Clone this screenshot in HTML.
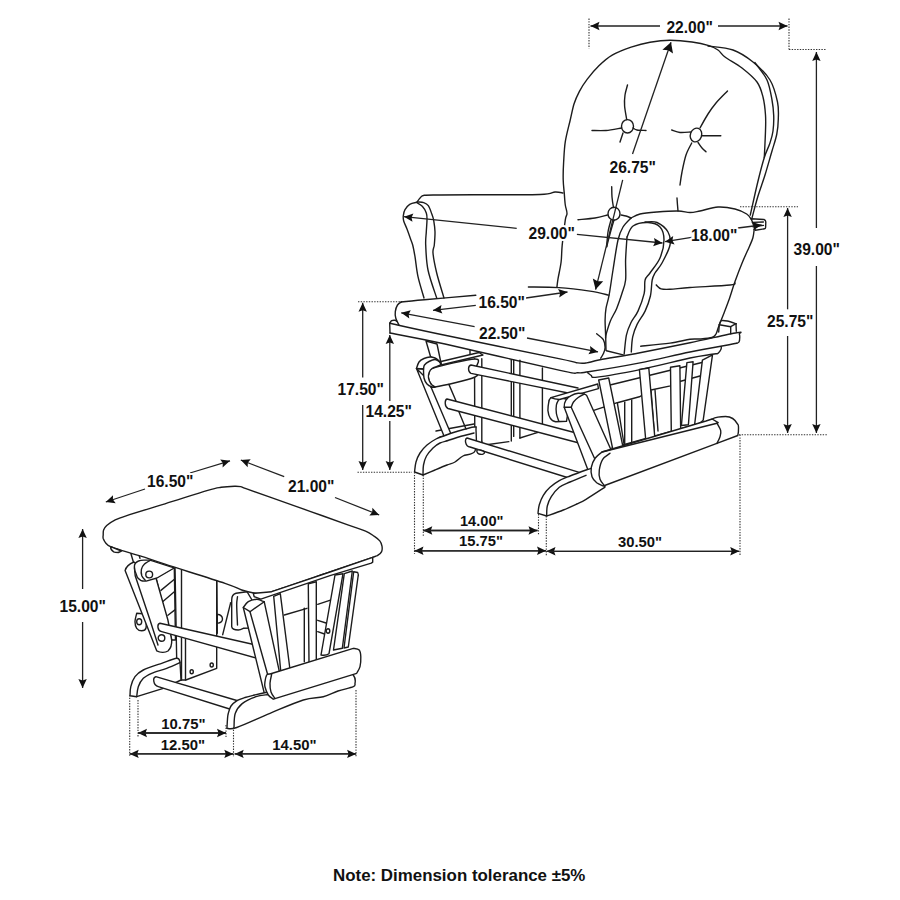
<!DOCTYPE html>
<html><head><meta charset="utf-8"><style>
html,body{margin:0;padding:0;background:#fff;width:900px;height:900px;overflow:hidden}
svg{display:block}
text{font-family:"Liberation Sans",sans-serif;font-weight:bold;fill:#111;stroke:#fff;stroke-width:4px;paint-order:stroke;stroke-linejoin:round}
</style></head><body>
<svg width="900" height="900" viewBox="0 0 900 900">
<rect width="900" height="900" fill="#fff"/>
<g fill="none" stroke="#1c1c1c" stroke-width="1.4" stroke-linecap="round" stroke-linejoin="round">
<path d="M556.9,287.3C557.1,285.9 557.3,283.1 558.0,278.9C558.7,274.7 560.4,267.6 561.1,262.0C561.8,256.4 561.5,252.1 562.2,245.1C562.9,238.1 564.5,225.1 565.3,219.8C566.1,214.5 567.0,215.9 567.0,213.4C567.0,210.9 565.8,208.3 565.3,205.0C564.8,201.7 564.6,197.6 564.3,193.4C563.9,189.2 563.3,184.8 563.2,179.7C563.1,174.6 563.2,169.1 563.6,162.8C564.0,156.5 564.2,148.7 565.3,141.7C566.4,134.7 568.5,127.3 570.0,121.0C571.5,114.7 572.5,108.9 574.0,104.0C575.5,99.1 577.1,95.8 579.3,91.6C581.5,87.4 584.0,83.4 587.3,79.1C590.6,74.8 594.8,69.8 598.9,65.8C603.0,61.8 606.8,58.2 612.2,55.1C617.6,52.0 624.8,49.2 631.1,47.1C637.4,45.0 643.5,43.3 650.0,42.2C656.5,41.1 663.0,40.3 670.0,40.3C677.0,40.3 685.5,41.1 692.0,42.0C698.5,42.9 704.6,44.3 708.9,45.6C713.2,46.9 715.3,48.1 718.0,50.0C720.7,51.9 721.0,54.0 725.0,57.0C729.0,60.0 736.7,63.8 742.0,68.0C747.3,72.2 753.5,77.2 757.0,82.0C760.5,86.8 761.6,91.5 763.0,97.0C764.4,102.5 765.1,109.3 765.5,115.0C765.9,120.7 765.7,123.9 765.5,131.0C765.3,138.1 764.5,153.1 764.3,157.5"/>
<path d="M708.0,46.0C712.2,46.7 725.5,47.3 733.0,50.0C740.5,52.7 746.8,57.0 753.0,62.0C759.2,67.0 765.9,73.3 770.0,80.0C774.1,86.7 776.1,95.5 777.5,102.0C778.9,108.5 778.4,113.7 778.3,119.0C778.2,124.3 777.8,128.7 776.8,134.0C775.8,139.3 774.0,144.2 772.0,151.0C770.0,157.8 767.3,167.5 765.0,175.0C762.7,182.5 760.2,188.8 758.0,196.0C755.8,203.2 753.0,214.3 752.0,218.0"/>
<path d="M755.0,63.0C755.2,63.2 754.0,61.2 756.0,64.0C758.0,66.8 764.3,74.0 767.0,80.0C769.7,86.0 770.9,94.1 772.0,100.0C773.1,105.9 773.5,110.3 773.7,115.5C773.9,120.7 773.6,126.3 773.0,131.0C772.4,135.7 771.2,139.1 769.8,143.5C768.3,147.9 766.4,150.8 764.3,157.5C762.2,164.2 759.6,174.4 757.3,184.0C755.0,193.6 751.5,209.8 750.3,215.0"/>
<path d="M621.5,126.3a6,6.7 0 1,0 12,0a6,6.7 0 1,0 -12,0"/>
<path d="M592.0,130.5C594.3,130.5 601.1,130.9 606.0,130.5C610.9,130.1 618.9,128.4 621.5,128.0"/>
<path d="M633.0,128.0C633.7,128.3 634.8,129.6 637.0,130.0C639.2,130.4 644.5,130.4 646.0,130.5"/>
<path d="M626.7,119.5C626.4,117.2 624.9,110.1 624.6,106.0C624.3,101.9 624.5,98.5 625.0,95.0C625.5,91.5 627.1,86.7 627.5,85.0"/>
<path d="M623.0,133.0 L620.0,142.0"/>
<path d="M690.4,135a5.6,7 0 1,0 11.2,0a5.6,7 0 1,0 -11.2,0" transform="rotate(20 696 135)"/>
<path d="M700.0,128.0C701.3,125.7 705.3,118.2 708.0,114.0C710.7,109.8 712.8,106.8 716.0,103.0C719.2,99.2 725.6,93.0 727.5,91.0"/>
<path d="M671.7,130.0C673.1,130.4 676.9,132.2 680.0,132.5C683.1,132.8 688.8,132.1 690.5,132.0"/>
<path d="M701.7,135.8 L720.8,135.8"/>
<path d="M698.0,142.5C698.7,143.4 700.7,146.5 702.0,148.0C703.3,149.5 705.3,151.1 706.0,151.7"/>
<path d="M691.7,143.0C690.8,145.0 687.6,150.2 686.0,155.0C684.4,159.8 683.0,167.0 682.0,172.0C681.0,177.0 680.3,182.8 680.0,185.0"/>
<path d="M677.0,198.0C677.1,199.2 677.3,202.8 677.5,205.0C677.7,207.2 677.9,210.0 678.0,211.0"/>
<path d="M608,213.7a6,6.5 0 1,0 12,0a6,6.5 0 1,0 -12,0"/>
<path d="M578.0,219.7C580.8,219.4 590.1,218.8 595.0,218.0C599.9,217.2 605.4,215.5 607.5,215.0"/>
<path d="M621.0,215.0C621.8,215.2 624.3,215.5 626.0,216.0C627.7,216.5 630.2,217.7 631.0,218.0"/>
<path d="M611.7,186.7C611.8,188.4 611.7,193.5 612.0,197.0C612.3,200.5 613.2,205.8 613.5,207.5"/>
<path d="M611.0,220.0C610.5,222.0 608.7,227.6 608.0,232.0C607.3,236.4 606.9,244.2 606.7,246.7"/>
<path d="M614.0,220.0C613.4,222.0 611.7,227.6 610.5,232.0C609.3,236.4 607.3,244.2 606.7,246.7"/>
<path d="M417.0,202.0C417.6,201.3 419.1,198.8 420.3,197.7C421.5,196.6 421.0,195.8 424.3,195.3C427.6,194.9 431.9,195.1 440.0,195.0C448.1,194.9 456.3,194.8 473.0,194.7C489.7,194.6 526.3,194.9 540.0,194.5C553.7,194.1 551.2,192.2 555.0,192.0C558.8,191.8 561.7,192.8 563.0,193.0"/>
<path d="M417.0,202.3C415.8,202.6 411.7,203.1 409.7,204.3C407.7,205.5 406.1,207.8 405.0,209.7C403.9,211.6 403.5,213.8 403.3,215.7C403.1,217.6 403.1,218.8 403.7,221.0C404.3,223.2 405.9,226.1 407.0,229.0C408.1,231.9 409.4,235.6 410.3,238.3C411.2,241.0 411.9,241.9 412.7,245.0C413.5,248.1 414.1,251.4 415.0,256.7C415.9,262.0 416.5,269.8 418.0,276.7C419.5,283.6 423.0,294.4 424.0,298.0"/>
<path d="M417.0,202.7C417.9,203.3 420.8,204.6 422.3,206.3C423.9,208.0 425.5,210.8 426.3,213.0C427.1,215.2 427.0,216.6 427.0,219.7C427.0,222.8 426.5,227.5 426.3,231.7C426.1,235.9 425.4,238.6 425.7,245.0C426.0,251.4 426.2,261.2 428.0,270.0C429.8,278.8 435.2,293.3 436.7,298.0"/>
<path d="M418.3,202.0C419.2,202.1 422.0,202.1 423.7,202.7C425.4,203.3 427.0,203.9 428.3,205.7C429.6,207.5 430.8,211.3 431.7,213.7C432.6,216.1 433.1,217.3 433.7,220.3C434.2,223.3 434.9,227.6 435.0,231.7C435.1,235.8 434.6,241.4 434.3,245.0C434.0,248.6 432.6,248.3 433.0,253.0C433.4,257.7 434.9,265.5 436.7,273.0C438.5,280.5 442.8,293.8 444.0,298.0"/>
<path d="M631.0,218.0C632.5,217.3 635.7,215.0 640.0,214.0C644.3,213.0 650.7,212.5 657.0,212.0C663.3,211.5 672.5,210.9 678.0,211.0C683.5,211.1 686.3,212.5 690.0,212.5C693.7,212.5 695.3,211.9 700.0,211.0C704.7,210.1 712.2,207.3 718.0,207.0C723.8,206.7 730.2,207.8 735.0,209.0C739.8,210.2 743.9,212.2 746.7,214.0C749.5,215.8 750.9,219.0 751.7,220.0"/>
<path d="M631.0,218.0C629.7,219.5 625.2,223.3 623.0,227.0C620.8,230.7 619.7,232.8 618.0,240.0C616.3,247.2 614.5,260.8 613.0,270.0C611.5,279.2 610.3,288.7 609.1,295.1C607.9,301.5 606.7,304.2 606.0,308.4C605.3,312.5 605.2,315.6 605.1,320.0C605.0,324.4 605.5,330.1 605.6,335.1C605.8,340.1 605.9,347.7 606.0,350.2"/>
<path d="M627.0,237.0C626.8,240.8 625.8,252.8 625.6,260.0C625.4,267.2 626.2,274.4 625.6,280.0C625.0,285.6 623.5,288.6 622.0,293.3C620.5,298.0 618.6,303.8 616.7,308.4C614.8,313.0 612.1,316.8 610.4,320.9C608.7,325.0 607.2,330.5 606.4,333.3C605.6,336.1 605.7,337.1 605.6,337.8"/>
<path d="M627.0,237.0C628.0,235.2 629.5,228.4 633.0,226.0C636.5,223.6 643.5,222.3 648.0,222.5C652.5,222.7 657.3,224.1 660.0,227.0C662.7,229.9 664.0,234.8 664.0,240.0C664.0,245.2 662.3,252.5 660.0,258.0C657.7,263.5 652.5,269.3 650.0,273.0C647.5,276.7 646.1,276.6 645.1,280.0C644.1,283.4 645.4,288.1 644.2,293.3C643.0,298.5 640.2,306.2 638.0,311.1C635.8,316.0 632.8,318.7 630.9,322.7C629.0,326.7 627.5,329.9 626.4,335.1C625.3,340.3 624.6,350.7 624.2,353.8"/>
<path d="M645.0,222.0C647.0,222.1 653.2,220.8 657.0,222.5C660.8,224.2 665.8,228.2 668.0,232.0C670.2,235.8 671.0,239.8 670.0,245.0C669.0,250.2 664.5,258.3 662.0,263.0C659.5,267.7 656.6,270.2 655.0,273.0C653.4,275.8 653.0,276.2 652.2,280.0C651.4,283.8 651.6,290.8 650.4,296.0C649.2,301.2 647.3,306.4 645.1,311.1C642.9,315.8 639.2,320.1 637.1,324.4C635.0,328.7 633.7,332.3 632.7,336.9C631.7,341.5 631.5,349.5 631.3,352.0"/>
<path d="M754.2,229.3C754.0,230.7 753.7,234.9 752.9,237.8C752.1,240.7 751.1,242.5 749.3,246.7C747.5,250.8 744.6,256.9 742.2,262.7C739.8,268.5 737.3,275.1 735.1,281.3C732.9,287.5 730.7,294.9 728.9,300.0C727.1,305.1 726.1,307.5 724.4,312.0C722.7,316.5 719.9,323.3 718.5,327.0C717.1,330.7 717.1,332.2 716.0,334.0C714.9,335.8 714.7,336.7 712.0,337.5C709.3,338.3 703.7,338.7 700.0,339.0C696.3,339.3 695.0,338.6 690.0,339.3C685.0,340.0 678.2,342.0 670.0,343.1C661.8,344.2 645.6,345.7 640.7,346.2"/>
<path d="M656.2,284.9C657.0,285.6 658.8,288.2 661.1,288.9C663.4,289.6 665.2,289.5 670.0,289.3C674.8,289.1 680.0,288.2 690.0,287.5C700.0,286.8 722.5,285.8 730.0,285.0C737.5,284.2 734.2,283.3 735.0,283.0"/>
<path d="M751.2,218.7 L764,219.5 C765.5,220 765.8,221 765.8,222 L765.6,227.5 C765.5,228.5 765,228.8 764.6,228.8 L755.4,230.3 Z" fill="#fff"/>
<path d="M752.4,222.4 L763.4,222.0"/>
<path d="M753.0,226.7 L763.4,225.4"/>
<path d="M528.4,287.0C533.5,287.1 548.7,286.9 559.0,287.6C569.3,288.3 581.7,289.9 590.0,291.1C598.3,292.4 605.6,294.4 608.7,295.1"/>
<path d="M401.0,302.0C404.9,301.6 411.9,300.9 424.4,299.8C436.9,298.7 467.2,296.0 475.8,295.2"/>
<path d="M401.7,301.7C401.0,302.2 398.6,303.3 397.5,305.0C396.4,306.7 395.6,309.5 395.3,311.7C395.0,313.9 395.2,316.1 395.8,318.3C396.4,320.5 398.5,323.9 399.0,325.0"/>
<path d="M596.7,333.8C597.8,334.8 601.9,337.3 603.3,339.6C604.7,341.9 605.1,345.2 605.1,347.6C605.1,350.0 604.0,352.0 603.3,353.8C602.6,355.6 601.1,357.5 600.7,358.2"/>
<path d="M606.4,350.7 L624.2,355.1"/>
<path d="M389.7,323.3C398.9,325.3 416.6,329.4 445.0,335.3C473.4,341.2 537.9,354.3 560.0,358.9C582.1,363.5 573.3,362.2 577.8,362.9C582.2,363.6 583.0,363.4 586.7,362.9C590.4,362.4 591.1,361.5 600.0,359.8C608.9,358.1 625.0,355.6 640.0,352.7C655.0,349.8 673.9,346.0 690.0,342.7C706.1,339.4 728.5,334.1 736.7,332.7C744.9,331.2 738.8,333.1 739.3,334.0C739.8,334.9 739.8,336.7 739.7,338.0C739.7,339.3 739.5,341.1 739.0,342.0C738.5,342.9 737.1,343.1 736.7,343.3"/>
<path d="M390.0,333.0C399.2,334.8 416.7,337.8 445.0,344.0C473.3,350.2 537.9,365.6 560.0,370.4C582.1,375.2 573.1,372.5 577.8,372.7C582.5,372.9 578.0,373.4 588.4,371.8C598.8,370.2 623.1,366.2 640.0,362.9C656.9,359.6 673.9,355.3 690.0,352.0C706.1,348.7 728.9,344.8 736.7,343.3"/>
<path d="M389.7,323.3 L390.0,333.0"/>
<path d="M389.7,323.3C390.0,322.9 390.8,321.2 391.7,320.7C392.6,320.2 394.2,320.2 395.0,320.3C395.8,320.4 396.4,321.1 396.7,321.3"/>
<path d="M587.6,372.7C588.2,373.1 589.5,374.6 591.1,375.3C592.7,376.0 589.1,378.1 597.3,377.1C605.4,376.2 624.5,372.8 640.0,369.6C655.5,366.4 678.0,360.6 690.0,358.0C702.0,355.4 707.3,355.1 712.0,354.3C716.7,353.5 716.5,354.1 718.0,353.3C719.5,352.5 720.5,350.4 721.0,349.3C721.5,348.2 721.2,347.1 721.3,346.7"/>
<path d="M719.3,324.7C719.6,324.0 720.0,321.3 721.3,320.7C722.6,320.1 724.8,320.5 727.3,321.0C729.8,321.5 734.5,323.2 736.0,323.7"/>
<path d="M719.3,324.7 L730.7,326.7 L736.0,323.7"/>
<path d="M719.3,324.7 L718.7,332.0"/>
<path d="M730.7,326.7 L730.7,333.7"/>
<path d="M736.0,323.7 L736.3,331.3"/>
<path d="M474.5,358.7 L474.8,440.0"/>
<path d="M481.8,358.7 L481.8,441.1"/>
<path d="M511.3,360.2 L511.3,441.1"/>
<path d="M481.8,441.1 L483.0,445.2 L508.8,441.6"/>
<path d="M513.7,360.2 L513.7,436.4"/>
<path d="M519.9,360.2 L519.9,438.0"/>
<path d="M519.9,438.0 L534.7,433.3"/>
<path d="M542.4,368.0 L542.4,424.0"/>
<path d="M534.7,433.3 L542.4,431.0"/>
<path d="M470.0,350.0 L470.0,356.0"/>
<path d="M436.0,431.0 L474.0,424.0"/>
<path d="M440.0,437.0 L474.0,430.0"/>
<path d="M426,341 L437,344 L441,363 L430.5,356.5Z" fill="#fff"/>
<path d="M416.5,368.5 L428,380 L451,434 L444,436Z" fill="#fff"/>
<path d="M414.5,472.0C414.8,470.3 415.1,465.2 416.0,462.0C416.9,458.8 418.2,455.8 420.0,453.0C421.8,450.2 424.3,447.3 427.0,445.0C429.7,442.7 433.0,440.6 436.0,439.0C439.0,437.4 441.8,436.7 445.0,435.5C448.2,434.3 450.2,433.4 455.0,432.0C459.8,430.6 470.5,427.3 474.0,427.0C477.5,426.7 475.8,426.0 476.0,430.0C476.2,434.0 477.2,446.7 475.0,451.0C472.8,455.3 466.3,454.2 463.0,456.0C459.7,457.8 457.7,460.5 455.0,462.0C452.3,463.5 450.3,463.7 447.0,465.0C443.7,466.3 439.0,468.3 435.0,470.0C431.0,471.7 425.0,474.2 423.0,475.0Z" fill="#fff"/>
<path d="M423.0,475.0C423.1,473.3 422.9,468.2 423.5,465.0C424.1,461.8 424.9,458.8 426.5,456.0C428.1,453.2 430.8,450.2 433.0,448.0C435.2,445.8 437.5,444.2 440.0,443.0C442.5,441.8 445.2,441.4 448.0,440.5C450.8,439.6 452.7,438.8 457.0,437.5C461.3,436.2 471.2,433.8 474.0,433.0"/>
<path d="M441,361.5 L479,352.5 L483,355 L441,365Z" fill="#fff"/>
<path d="M432.0,368.5C439.7,366.2 467.7,359.1 475.0,359.0C482.3,358.9 476.0,365.0 476.0,368.0C476.0,371.0 481.8,373.8 475.0,377.0C468.2,380.2 442.3,385.8 435.0,387.0C427.7,388.2 432.1,385.5 431.0,384.0C429.9,382.5 428.8,379.8 428.5,378.0C428.2,376.2 428.4,374.6 429.0,373.0C429.6,371.4 424.3,370.8 432.0,368.5Z" fill="#fff"/>
<path d="M416.5,368.5C416.9,367.4 417.8,363.7 419.0,362.0C420.2,360.3 422.2,359.3 424.0,358.5C425.8,357.7 428.2,357.1 430.0,357.0C431.8,356.9 433.7,357.5 435.0,358.0C436.3,358.5 437.0,358.9 438.0,360.0C439.0,361.1 442.0,363.1 441.0,364.5C440.0,365.9 434.0,367.1 432.0,368.5C430.0,369.9 429.6,371.4 429.0,373.0C428.4,374.6 428.2,376.2 428.5,378.0C428.8,379.8 429.9,382.5 431.0,384.0C432.1,385.5 434.8,386.5 435.0,387.0C435.2,387.5 433.3,387.5 432.0,387.0C430.7,386.5 428.3,385.5 427.0,384.0C425.7,382.5 424.6,380.5 424.0,378.0C423.4,375.5 423.6,370.5 423.5,369.0Z" fill="#fff"/>
<path d="M423.5,369.0C423.7,368.3 423.6,366.2 424.5,365.0C425.4,363.8 427.2,362.4 429.0,361.5C430.8,360.6 433.3,359.5 435.0,359.5C436.7,359.5 438.0,360.7 439.0,361.5C440.0,362.3 440.7,364.0 441.0,364.5"/>
<path d="M416.5,368.5 L423.5,369.0"/>
<path d="M448.9,384.4 L455.6,400.0 L459.0,412.0 L466.0,429.0"/>
<path d="M471,365 L578,388 L578,395 L471,373.4 C468,372 467.5,366 471,365Z" fill="#fff" stroke="none"/>
<path d="M578,388 L471,365 C467.5,366 468,372 471,373.4 L578,395"/>
<path d="M447,399 L580,434 L580,443.3 L448,408.5 C444.5,407 444.5,400 447,399Z" fill="#fff"/>
<path d="M467,438 L589,475.3 L585,483 L470,447 C465,446.5 464.5,439 467,438Z" fill="#fff"/>
<path d="M477,450 C479,449.5 483,450.5 484.5,452 C485,454 482,455 479,454 C477,453.3 476.5,451 477,450Z" fill="#fff"/>
<path d="M609.0,385.3 L704.0,362.0"/>
<path d="M593.0,410.7 L617.3,402.7 L639.4,396.8 L651.0,390.0 L670.5,385.9 L680.7,381.2 L700.0,376.0"/>
<path d="M612.0,448.0 L713.0,419.6"/>
<path d="M702.4,360.2 L712.5,354.8 L703.2,420.1 C701,423 696,425 694.6,424.8Z" fill="#fff"/>
<path d="M686.9,362.6 L693.1,361.8 L688.4,424.8 L681.4,425.5Z" fill="#fff"/>
<path d="M670.5,367.2 L679.9,365.7 L680.7,432.5 C678,435 674,435 671.3,431.8Z" fill="#fff"/>
<path d="M651.1,391.3 L654.2,431.8"/>
<path d="M655.0,390.0 L658.0,431.0"/>
<path d="M617.3,402.7 L624.0,444.0"/>
<path d="M624.7,402.2 L624.7,444.2"/>
<path d="M631.7,399.9 L631.7,442.6"/>
<path d="M639.4,369.5 L648.8,368 L655,439.5 C652,442 648,442 645.7,439.5Z" fill="#fff"/>
<path d="M598.7,380 L608.7,378 L623.3,448.3 C621,452 616,452.5 612.8,449.4Z" fill="#fff"/>
<path d="M551,397.6 C549.5,399 548.7,401 548.7,402.7 C548,406 547.9,408 547.9,410.4 C548.3,414 549,416.5 550.2,418.2 C551.5,420.3 553.5,421.5 555.7,421.7 L566.5,421.3 L570,400 L560,397.5 Z" fill="#fff"/>
<path d="M558.8,399.5C558.4,400.4 556.8,402.7 556.4,405.0C556.0,407.3 556.0,410.8 556.4,413.5C556.8,416.2 558.4,420.0 558.8,421.3"/>
<path d="M551,397.6 L597.7,384 L598.4,388.7 L559.5,399.5 C556,399.2 553,398.5 551,397.6 Z" fill="#fff"/>
<path d="M564.2,407.3 C564,403 565,401.5 565.8,400.3 C567.5,398 569,396.8 571.2,395.7 C573.5,394.3 576,393.5 578.2,393.3 C580.5,393.2 582.5,393.5 584.4,394.1 C585.5,394.5 586.3,395 586.8,395.7 L612,452 L600,478 L590.7,477.3 Z" fill="#fff"/>
<path d="M564.2,407.3L571.2,407.3"/>
<path d="M571.2,407.3C571.6,406.4 572.3,403.6 573.5,402.0C574.7,400.4 576.4,398.8 578.2,397.5C580.0,396.2 583.4,394.7 584.4,394.1"/>
<path d="M571.2,407.3 L598.0,466.0"/>
<path d="M538.0,513.3C538.2,511.9 538.4,507.7 539.3,504.7C540.2,501.7 541.5,498.2 543.3,495.3C545.1,492.4 547.3,489.7 550.0,487.3C552.7,484.9 556.0,482.6 559.3,480.7C562.6,478.8 565.5,477.8 570.0,476.0C574.5,474.2 581.3,471.7 586.0,470.0C590.7,468.3 596.0,466.7 598.0,466.0 L605,487 L604.7,487.3C601.6,489.3 590.7,496.5 586.0,499.3C581.3,502.1 580.5,502.2 576.7,504.0C572.9,505.8 568.3,508.0 563.3,510.0C558.3,512.0 549.5,515.0 546.7,516.0Z" fill="#fff"/>
<path d="M546.7,516.0C546.8,514.3 546.5,509.2 547.3,506.0C548.1,502.8 549.3,499.8 551.3,496.7C553.3,493.6 556.2,489.8 559.3,487.3C562.4,484.9 565.5,484.0 570.0,482.0C574.5,480.0 583.3,476.4 586.0,475.3"/>
<path d="M602.0,452.0C600.9,453.0 597.1,455.4 595.3,458.0C593.5,460.6 591.8,464.2 591.3,467.3C590.8,470.4 591.1,474.1 592.0,476.7C592.9,479.3 594.8,481.1 596.7,482.7C598.6,484.2 602.2,485.4 603.3,486.0 L718.2,442.8 L737.8,435.5 C739,430 738.5,424 737.8,424.4 C735,419 730,416.5 725.6,416.5 C720,416.5 715,417.5 712.1,419 L706,421Z" fill="#fff"/>
<path d="M610.0,453.3C608.8,454.3 604.5,456.5 602.7,459.3C600.9,462.1 599.8,466.7 599.3,470.0C598.8,473.3 599.1,476.6 600.0,479.3C600.9,482.0 603.9,484.9 604.7,486.0"/>
<path d="M717.0,423.2C717.6,424.4 720.2,428.4 720.7,430.6C721.2,432.9 720.6,434.6 720.0,436.7C719.4,438.8 717.5,442.3 717.0,443.4"/>
<path d="M602.0,452.0 L717.0,423.2"/>
<path d="M712.1,419.0 L718.2,422.6 L717.0,423.2"/>
<path d="M136.7,613.3C136.4,614.7 135.0,619.2 135.0,621.7C135.0,624.2 135.6,626.8 136.7,628.3C137.8,629.8 140.1,630.8 141.7,630.8C143.2,630.8 145.3,630.8 146.0,628.0C146.7,625.2 146.0,616.3 146.0,614.0Z" fill="#fff"/>
<path d="M136.7,621.7a2.5,3 0 1,0 5.0,0a2.5,3 0 1,0 -5.0,0"/>
<path d="M130.8,553.3 L133.3,561.7"/>
<path d="M139.2,555.8 L140.0,558.3"/>
<path d="M175,566.7 L216.7,580 L216.7,668.3 L185.8,680 L180.8,680 L176.7,660Z" fill="#fff"/>
<path d="M181.5,570.0 L181.5,680.0"/>
<path d="M185.5,638.0 L185.5,680.0"/>
<path d="M190.1,671.7a1.6,2 0 1,0 3.2,0a1.6,2 0 1,0 -3.2,0"/>
<path d="M210.1,665a1.6,2 0 1,0 3.2,0a1.6,2 0 1,0 -3.2,0"/>
<path d="M216.7,580.7 L217.3,633.3"/>
<path d="M222.7,634.7 L230.7,602.7"/>
<path d="M217.3,614.5 C220,614 222.5,616.5 222.5,619 C222.5,621.5 220,623.5 217.3,623Z" fill="#fff"/>
<path d="M156,578 L174.3,567.5 L175.5,640 L171.7,640 Z" fill="#fff"/>
<path d="M160.9,590.4 L174.1,579.5"/>
<path d="M163.2,601.3 L174.9,591.2"/>
<path d="M167.9,615.3 L174.9,609.9"/>
<path d="M125.1,570.6 C126,567 129,564 134,562 L156.2,578.8 L167.9,620 L171.7,640 C172,645 170.8,648.3 168,651 C165,652.8 160,652.5 156.7,650.8 Z" fill="#fff"/>
<path d="M134.4,567.9 L135.2,575.7 L150.0,620.0 L158.0,645.0"/>
<path d="M158.2,638a3.3,3.3 0 1,0 6.6,0a3.3,3.3 0 1,0 -6.6,0"/>
<path d="M134.4,567 C134.2,564 136,562 138.5,561 C140,560.3 142,560.1 144,560.1 L150,560.1 L174.1,567.9 L173.3,568.5 L157,578 L146.1,581.1 C143.5,581.2 141.5,580.8 140.7,580.3 C138,578.5 136.8,577 136.8,575.7 C135,572 134.5,569.5 134.4,567 Z" fill="#fff"/>
<path d="M151.5,559.7C150.3,560.4 146.2,562.4 144.5,564.0C142.8,565.6 141.8,567.4 141.4,569.4C141.0,571.4 141.2,573.9 141.8,575.7C142.5,577.5 144.7,579.5 145.3,580.3"/>
<path d="M145.79999999999998,574.5a3.4,3.4 0 1,0 6.8,0a3.4,3.4 0 1,0 -6.8,0"/>
<path d="M160,623.3 L256,645 L258,658.5 L161.7,631.7 C157,630.5 157,624 160,623.3Z" fill="#fff"/>
<path d="M231.7,626.7 L231.7,600 C231.7,596 233,594 236,593.3 L247,591.7 L252,600 L250,628 L243.3,628.3 C241,629.5 239,630 238.3,630 C235,630 232,629 231.7,626.7Z" fill="#fff"/>
<path d="M237.5,596.7C237.4,598.1 236.7,600.3 236.7,605.0C236.7,609.7 237.4,621.7 237.5,625.0"/>
<path d="M284.3,615.0 L307.0,608.3"/>
<path d="M317.7,604.3 L329.7,600.3"/>
<path d="M304.3,608.3 L304.3,661.7"/>
<path d="M317.7,620.3 L326.0,623.0"/>
<path d="M317.7,631.7 L324.5,634.0"/>
<path d="M273.7,596.3 L280.3,593.7 L290.3,672 L281,674 Z" fill="#fff"/>
<path d="M308.3,583.7 L316.3,581.7 L316.3,661.7 C314,664.5 311,664.5 309,661.7 Z" fill="#fff"/>
<path d="M353.7,571.7 L357.7,572.5 C358.5,574 358.3,576 358,577 L348.3,647 L344,648 Z" fill="#fff"/>
<path d="M344.3,573.7 L352.3,571 L342.3,648.3 L333.5,650 Z" fill="#fff"/>
<path d="M335,575 L343,573.7 L329,653.7 C326.5,655.5 323.5,655.5 321,655 Z" fill="#fff"/>
<path d="M326.2,631a1.8,2.2 0 1,0 3.6,0a1.8,2.2 0 1,0 -3.6,0"/>
<path d="M243.3,607.5C244.1,606.5 246.1,603.1 248.3,601.7C250.5,600.3 254.5,599.4 256.7,599.2C258.9,599.1 260.4,600.4 261.7,600.8C262.9,601.2 263.8,601.6 264.2,601.7 L279.2,670.8 L265,696 Z" fill="#fff"/>
<path d="M243.3,607.5 L250.0,611.7 L264.2,601.7"/>
<path d="M250.0,611.7 L272.0,690.0"/>
<path d="M103.2,535.0C103.3,533.6 103.0,531.6 103.6,530.0C104.2,528.4 104.9,527.1 106.7,525.5C108.5,523.9 111.2,522.0 114.4,520.4C117.6,518.8 117.7,518.6 126.1,515.8C134.5,513.0 151.4,508.0 165.0,503.8C178.6,499.6 198.5,493.1 207.8,490.4C217.2,487.6 216.7,488.0 221.1,487.3C225.5,486.6 231.1,486.3 234.4,486.2C237.7,486.1 238.8,486.2 240.7,486.6C242.6,487.0 241.1,486.9 246.0,488.6C250.9,490.4 259.3,493.3 270.0,497.1C280.7,500.9 297.0,506.7 310.0,511.3C323.0,515.9 338.5,521.6 347.8,524.9C357.1,528.2 361.2,529.2 365.6,531.1C370.0,533.0 372.0,534.8 374.4,536.4C376.8,538.0 378.5,539.3 379.8,540.9C381.1,542.5 381.7,544.4 382.0,546.2C382.3,548.0 382.3,550.1 381.6,551.6C380.9,553.1 379.5,554.2 378.0,555.1C376.5,556.0 380.7,554.5 372.7,557.3C364.7,560.1 346.8,566.3 330.0,572.0C313.2,577.7 283.0,588.1 271.7,591.7C260.4,595.3 264.8,593.3 262.0,593.6C259.2,593.9 258.4,593.9 255.0,593.3C251.6,592.7 246.7,591.7 241.7,590.0C236.7,588.3 237.8,587.6 225.0,583.3C212.2,579.0 178.9,568.7 165.0,564.2C151.1,559.7 148.8,558.7 141.7,556.4C134.6,554.1 127.4,552.2 122.2,550.6C117.0,549.0 113.3,547.9 110.6,546.7C107.9,545.5 107.1,544.6 105.9,543.2C104.7,541.8 103.7,539.9 103.2,538.5C102.8,537.1 103.1,536.4 103.2,535.0Z" fill="#fff"/>
<path d="M253.3,593.3 L255,593.3 L271.7,591.7 L330,572 L372.7,557.3 L372.7,562.2 L371.3,563.1 L330,575.6 L260.8,599.2 L254.2,596.7Z" fill="#fff"/>
<path d="M110.6,546.7 C110.5,549 111,550.2 113.7,551.8 C115,552.5 117,552.5 118.3,552.5 L121.4,551Z" fill="#fff"/>
<path d="M130.0,695.8C130.1,694.3 130.0,689.9 130.8,686.7C131.6,683.5 132.9,679.5 135.0,676.7C137.1,673.9 138.9,672.2 143.3,670.0C147.8,667.8 156.1,665.2 161.7,663.3C167.3,661.3 173.6,658.6 176.7,658.3C179.8,658.0 179.4,661.1 180.0,661.7 L181,680 L163.3,688.3 L136.7,696.7Z" fill="#fff"/>
<path d="M136.7,696.7C137.0,695.0 137.2,689.8 138.3,686.7C139.4,683.6 141.1,680.5 143.3,678.3C145.5,676.1 147.8,675.0 151.7,673.3C155.6,671.6 162.0,670.1 166.7,668.3C171.4,666.5 177.8,663.5 180.0,662.5"/>
<path d="M155.8,676.7 L242,702 L236,711 L158.3,686.7 C153,685 152.5,677.5 155.8,676.7Z" fill="#fff"/>
<path d="M227.0,727.5C227.1,726.1 227.3,721.4 227.5,719.0C227.7,716.6 227.7,715.5 228.3,713.3C228.9,711.1 229.6,708.1 231.0,706.0C232.4,703.9 234.4,702.2 236.7,700.8C239.0,699.4 242.2,698.4 245.0,697.5C247.8,696.6 249.5,696.2 253.3,695.3C257.1,694.4 265.6,692.5 268.0,692.0 L300,682 L350,670 L353.3,675 C355.5,678 355.5,681 355,683.3 L355.0,683.3C354.7,683.9 356.1,685.4 353.3,686.7C350.5,688.0 343.0,689.3 338.0,691.0C333.0,692.7 329.1,695.2 323.3,696.7C317.5,698.2 312.2,697.2 303.3,700.0C294.4,702.8 281.1,708.7 270.0,713.3C258.9,717.9 243.9,725.0 236.7,727.5C229.5,730.0 228.4,728.2 226.7,728.3Z" fill="#fff"/>
<path d="M234.0,727.2C234.2,724.9 233.9,717.2 235.3,713.3C236.7,709.4 238.8,706.4 242.2,703.6C245.6,700.8 251.7,698.2 256.0,696.7C260.3,695.2 266.0,694.9 268.0,694.5"/>
<path d="M353.3,648.3C354.3,648.6 357.9,648.6 359.2,650.0C360.4,651.4 360.7,653.9 360.8,656.7C360.9,659.5 360.7,663.9 360.0,666.7C359.3,669.5 357.2,672.2 356.7,673.3 L273.3,699.2 L273.3,699.2C272.5,698.5 269.7,697.0 268.3,695.0C266.9,693.0 265.6,689.2 265.0,687.0C264.4,684.8 264.7,683.7 265.0,681.7C265.3,679.7 265.9,676.3 266.7,675.0C267.5,673.7 269.4,674.2 270.0,674.0Z" fill="#fff"/>
<path d="M271.7,674.2C271.4,675.7 270.1,680.3 270.0,683.3C269.9,686.3 270.2,689.5 271.0,692.0C271.8,694.5 274.3,697.4 275.0,698.5"/>
</g>
<line x1="590.5" y1="26" x2="660" y2="26" stroke="#222" stroke-width="1.3"/>
<polygon points="590.5,26.0 599.5,21.8 598.0,26.0 599.5,30.2" fill="#111"/>
<line x1="787.5" y1="26" x2="718" y2="26" stroke="#222" stroke-width="1.3"/>
<polygon points="787.5,26.0 778.5,30.2 780.0,26.0 778.5,21.8" fill="#111"/>
<line x1="589" y1="18.5" x2="589" y2="48.5" stroke="#333" stroke-width="1.1" stroke-dasharray="1.4 1.3"/>
<line x1="789" y1="18.5" x2="789" y2="49.5" stroke="#333" stroke-width="1.1" stroke-dasharray="1.4 1.3"/>
<line x1="789" y1="49.5" x2="826" y2="49.5" stroke="#333" stroke-width="1.1" stroke-dasharray="1.4 1.3"/>
<line x1="816.4" y1="52" x2="816.4" y2="228" stroke="#222" stroke-width="1.3"/>
<polygon points="816.4,52.0 820.6,61.0 816.4,59.5 812.2,61.0" fill="#111"/>
<line x1="816.4" y1="433" x2="816.4" y2="266" stroke="#222" stroke-width="1.3"/>
<polygon points="816.4,433.0 812.2,424.0 816.4,425.5 820.6,424.0" fill="#111"/>
<line x1="739" y1="434.7" x2="827" y2="434.7" stroke="#333" stroke-width="1.1" stroke-dasharray="1.4 1.3"/>
<line x1="787.6" y1="208" x2="787.6" y2="309.3" stroke="#222" stroke-width="1.3"/>
<polygon points="787.6,208.0 791.8,217.0 787.6,215.5 783.4,217.0" fill="#111"/>
<line x1="787.6" y1="433" x2="787.6" y2="336" stroke="#222" stroke-width="1.3"/>
<polygon points="787.6,433.0 783.4,424.0 787.6,425.5 791.8,424.0" fill="#111"/>
<line x1="740" y1="206.7" x2="798" y2="206.7" stroke="#333" stroke-width="1.1" stroke-dasharray="1.4 1.3"/>
<line x1="671" y1="42.2" x2="632.5" y2="154" stroke="#222" stroke-width="1.3"/>
<polygon points="671.0,42.2 673.0,53.5 668.2,50.2 662.4,49.8" fill="#111"/>
<line x1="595.6" y1="289.6" x2="622.7" y2="179.8" stroke="#222" stroke-width="1.3"/>
<polygon points="595.6,289.6 592.8,278.6 597.6,281.3 603.2,281.2" fill="#111"/>
<line x1="404" y1="216.7" x2="516.7" y2="228.3" stroke="#222" stroke-width="1.3"/>
<polygon points="404.0,216.7 413.4,213.4 411.5,217.5 412.5,221.8" fill="#111"/>
<line x1="662.5" y1="243" x2="576.9" y2="234.4" stroke="#222" stroke-width="1.3"/>
<polygon points="662.5,243.0 653.1,246.3 655.0,242.3 654.0,237.9" fill="#111"/>
<line x1="665" y1="241.7" x2="691.6" y2="237.3" stroke="#222" stroke-width="1.3"/>
<polygon points="665.0,241.7 673.2,236.1 672.4,240.5 674.6,244.4" fill="#111"/>
<line x1="761.7" y1="225" x2="737.8" y2="228" stroke="#222" stroke-width="1.3"/>
<polygon points="761.7,225.0 753.3,230.3 754.3,225.9 752.2,222.0" fill="#111"/>
<line x1="433" y1="310.3" x2="475.8" y2="305.4" stroke="#222" stroke-width="1.3"/>
<polygon points="433.0,310.3 441.5,305.1 440.5,309.4 442.4,313.4" fill="#111"/>
<line x1="567.5" y1="292" x2="526" y2="298" stroke="#222" stroke-width="1.3"/>
<polygon points="567.5,292.0 559.2,297.4 560.1,293.1 558.0,289.1" fill="#111"/>
<line x1="401.2" y1="312.8" x2="474.6" y2="326.7" stroke="#222" stroke-width="1.3"/>
<polygon points="401.2,312.8 410.8,310.3 408.6,314.2 409.3,318.6" fill="#111"/>
<line x1="598" y1="351.9" x2="527" y2="338" stroke="#222" stroke-width="1.3"/>
<polygon points="598.0,351.9 588.4,354.3 590.6,350.5 590.0,346.0" fill="#111"/>
<line x1="358" y1="301.7" x2="401" y2="301.7" stroke="#333" stroke-width="1.1" stroke-dasharray="1.4 1.3"/>
<line x1="362.7" y1="302.8" x2="362.7" y2="377.5" stroke="#222" stroke-width="1.3"/>
<polygon points="362.7,302.8 366.9,311.8 362.7,310.3 358.5,311.8" fill="#111"/>
<line x1="362.7" y1="470" x2="362.7" y2="405" stroke="#222" stroke-width="1.3"/>
<polygon points="362.7,470.0 358.5,461.0 362.7,462.5 366.9,461.0" fill="#111"/>
<line x1="389.8" y1="335" x2="389.8" y2="401" stroke="#222" stroke-width="1.3"/>
<polygon points="389.8,335.0 394.0,344.0 389.8,342.5 385.6,344.0" fill="#111"/>
<line x1="389.8" y1="470" x2="389.8" y2="421" stroke="#222" stroke-width="1.3"/>
<polygon points="389.8,470.0 385.6,461.0 389.8,462.5 394.0,461.0" fill="#111"/>
<line x1="357.5" y1="472.2" x2="412" y2="472.2" stroke="#333" stroke-width="1.1" stroke-dasharray="1.4 1.3"/>
<line x1="423.3" y1="530.5" x2="537.5" y2="530.5" stroke="#222" stroke-width="1.3"/>
<polygon points="423.3,530.5 432.3,526.3 430.8,530.5 432.3,534.7" fill="#111"/>
<line x1="537.5" y1="530.5" x2="423.3" y2="530.5" stroke="#222" stroke-width="1.3"/>
<polygon points="537.5,530.5 528.5,534.7 530.0,530.5 528.5,526.3" fill="#111"/>
<line x1="414.5" y1="550.8" x2="546" y2="550.8" stroke="#222" stroke-width="1.3"/>
<polygon points="414.5,550.8 423.5,546.6 422.0,550.8 423.5,555.0" fill="#111"/>
<line x1="546" y1="550.8" x2="414.5" y2="550.8" stroke="#222" stroke-width="1.3"/>
<polygon points="546.0,550.8 537.0,555.0 538.5,550.8 537.0,546.6" fill="#111"/>
<line x1="546.5" y1="551.3" x2="739.2" y2="551.3" stroke="#222" stroke-width="1.3"/>
<polygon points="546.5,551.3 555.5,547.1 554.0,551.3 555.5,555.5" fill="#111"/>
<line x1="739.2" y1="551.3" x2="546.5" y2="551.3" stroke="#222" stroke-width="1.3"/>
<polygon points="739.2,551.3 730.2,555.5 731.7,551.3 730.2,547.1" fill="#111"/>
<line x1="414.5" y1="472.2" x2="414.5" y2="554" stroke="#333" stroke-width="1.1" stroke-dasharray="1.4 1.3"/>
<line x1="423.3" y1="475" x2="423.3" y2="536" stroke="#333" stroke-width="1.1" stroke-dasharray="1.4 1.3"/>
<line x1="538.5" y1="514" x2="538.5" y2="535" stroke="#333" stroke-width="1.1" stroke-dasharray="1.4 1.3"/>
<line x1="546.3" y1="516" x2="546.3" y2="556" stroke="#333" stroke-width="1.1" stroke-dasharray="1.4 1.3"/>
<line x1="740" y1="434.7" x2="740" y2="555" stroke="#333" stroke-width="1.1" stroke-dasharray="1.4 1.3"/>
<line x1="105.8" y1="502" x2="145" y2="489" stroke="#222" stroke-width="1.3"/>
<polygon points="105.8,502.0 113.0,495.2 112.9,499.6 115.7,503.2" fill="#111"/>
<line x1="230" y1="460.8" x2="190" y2="473" stroke="#222" stroke-width="1.3"/>
<polygon points="230.0,460.8 222.6,467.4 222.8,463.0 220.2,459.4" fill="#111"/>
<line x1="240.8" y1="460" x2="284.2" y2="476.7" stroke="#222" stroke-width="1.3"/>
<polygon points="240.8,460.0 250.7,459.3 247.8,462.7 247.7,467.2" fill="#111"/>
<line x1="379.2" y1="515" x2="335" y2="497.5" stroke="#222" stroke-width="1.3"/>
<polygon points="379.2,515.0 369.3,515.6 372.2,512.2 372.4,507.8" fill="#111"/>
<line x1="82.6" y1="529" x2="82.6" y2="589" stroke="#222" stroke-width="1.3"/>
<polygon points="82.6,529.0 86.8,538.0 82.6,536.5 78.4,538.0" fill="#111"/>
<line x1="82.6" y1="688" x2="82.6" y2="622" stroke="#222" stroke-width="1.3"/>
<polygon points="82.6,688.0 78.4,679.0 82.6,680.5 86.8,679.0" fill="#111"/>
<line x1="138" y1="733" x2="226" y2="733" stroke="#222" stroke-width="1.3"/>
<polygon points="138.0,733.0 147.0,728.8 145.5,733.0 147.0,737.2" fill="#111"/>
<line x1="226" y1="733" x2="138" y2="733" stroke="#222" stroke-width="1.3"/>
<polygon points="226.0,733.0 217.0,737.2 218.5,733.0 217.0,728.8" fill="#111"/>
<line x1="129.7" y1="753.9" x2="233.3" y2="753.9" stroke="#222" stroke-width="1.3"/>
<polygon points="129.7,753.9 138.7,749.7 137.2,753.9 138.7,758.1" fill="#111"/>
<line x1="233.3" y1="753.9" x2="129.7" y2="753.9" stroke="#222" stroke-width="1.3"/>
<polygon points="233.3,753.9 224.3,758.1 225.8,753.9 224.3,749.7" fill="#111"/>
<line x1="234.7" y1="753.9" x2="356.1" y2="753.9" stroke="#222" stroke-width="1.3"/>
<polygon points="234.7,753.9 243.7,749.7 242.2,753.9 243.7,758.1" fill="#111"/>
<line x1="356.1" y1="753.9" x2="234.7" y2="753.9" stroke="#222" stroke-width="1.3"/>
<polygon points="356.1,753.9 347.1,758.1 348.6,753.9 347.1,749.7" fill="#111"/>
<line x1="129.7" y1="695" x2="129.7" y2="757" stroke="#333" stroke-width="1.1" stroke-dasharray="1.4 1.3"/>
<line x1="138" y1="700" x2="138" y2="737" stroke="#333" stroke-width="1.1" stroke-dasharray="1.4 1.3"/>
<line x1="226" y1="725" x2="226" y2="737" stroke="#333" stroke-width="1.1" stroke-dasharray="1.4 1.3"/>
<line x1="233.5" y1="727" x2="233.5" y2="757" stroke="#333" stroke-width="1.1" stroke-dasharray="1.4 1.3"/>
<line x1="356" y1="690" x2="356" y2="757" stroke="#333" stroke-width="1.1" stroke-dasharray="1.4 1.3"/>
<text x="666.4" y="32.6" font-size="15.6">22.00&quot;</text>
<text x="609.5" y="173" font-size="15.6">26.75&quot;</text>
<text x="528.5" y="239" font-size="15.6">29.00&quot;</text>
<text x="691" y="241" font-size="15.6">18.00&quot;</text>
<text x="793.5" y="254.8" font-size="15.6">39.00&quot;</text>
<text x="478.5" y="308.2" font-size="15.6">16.50&quot;</text>
<text x="479" y="339.2" font-size="15.6">22.50&quot;</text>
<text x="767" y="327" font-size="15.6">25.75&quot;</text>
<text x="337.5" y="394.6" font-size="15.6">17.50&quot;</text>
<text x="365.5" y="417.4" font-size="15.6">14.25&quot;</text>
<text x="147" y="487.2" font-size="15.6">16.50&quot;</text>
<text x="288" y="492.4" font-size="15.6">21.00&quot;</text>
<text x="59.5" y="612.4" font-size="15.6">15.00&quot;</text>
<text x="460" y="526" font-size="14.6">14.00&quot;</text>
<text x="459" y="546.3" font-size="14.8">15.75&quot;</text>
<text x="618" y="546.9" font-size="14.8">30.50&quot;</text>
<text x="161.3" y="729.2" font-size="14.9">10.75&quot;</text>
<text x="160.8" y="749.8" font-size="14.9">12.50&quot;</text>
<text x="272.2" y="749.8" font-size="14.9">14.50&quot;</text>
<text x="333" y="881.2" font-size="16.9">Note: Dimension tolerance ±5%</text>
</svg>
</body></html>
